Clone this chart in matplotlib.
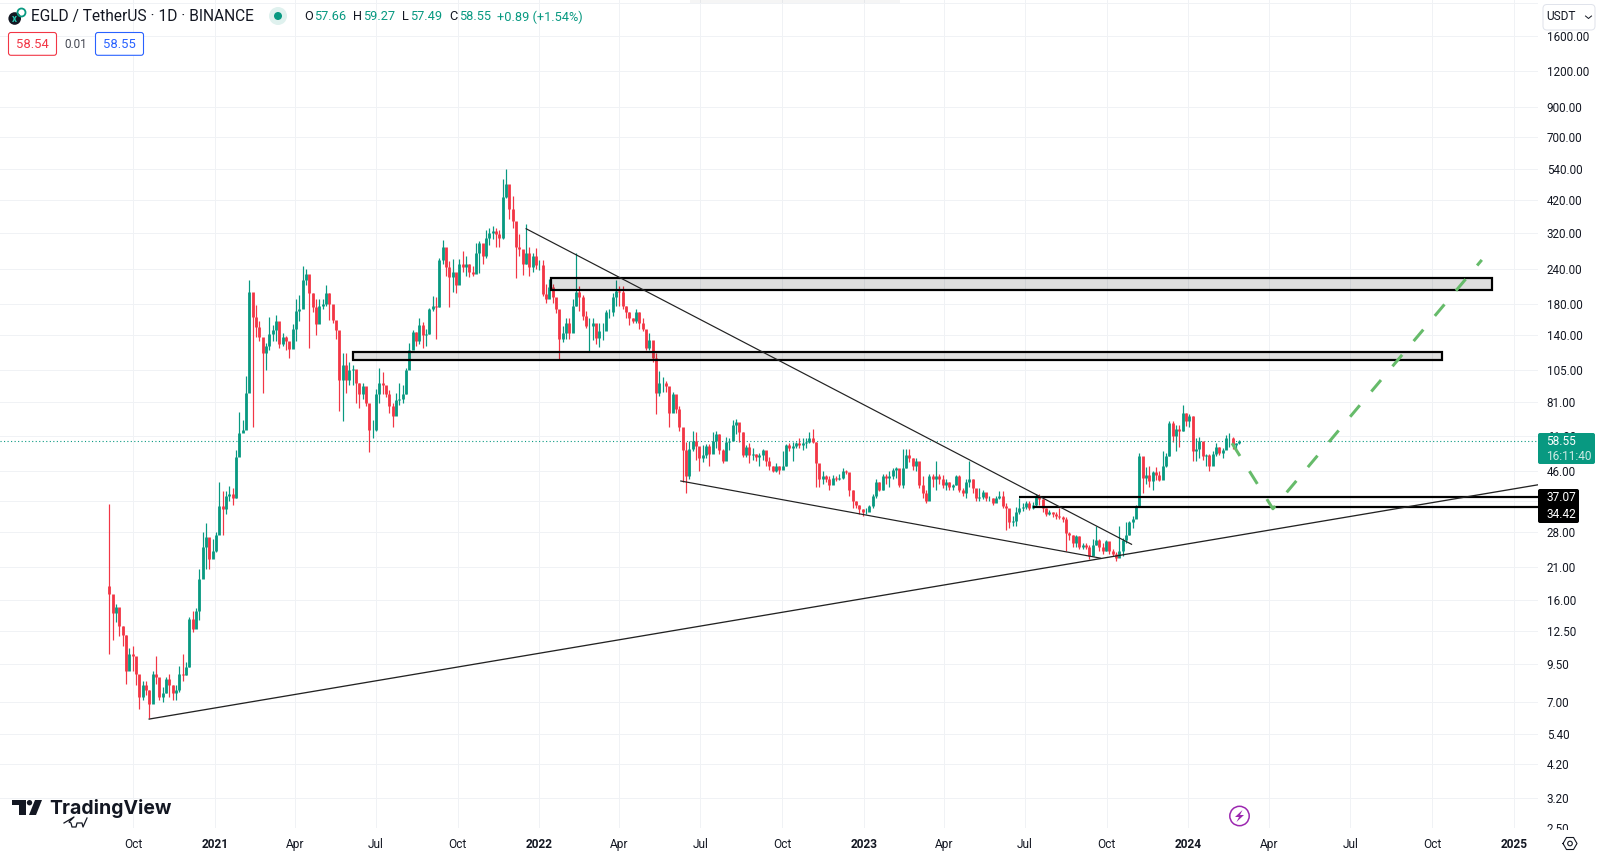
import datetime as dt
import matplotlib
matplotlib.use('Agg')
import matplotlib.pyplot as plt
import matplotlib.dates as mdates
from matplotlib.patches import Rectangle, FancyBboxPatch, Circle, Polygon
import numpy as np

plt.rcParams['font.family'] = ['Roboto', 'DejaVu Sans']

# precios, una vela cada 3.75 dias aprox
first_day = dt.date(2020, 9, 4)
bar_step_days = 3.75
first_open = 18.0

close_a = [16.9, 14.4, 15.2, 13, 12.1, 9, 10.3, 10.2, 8.8, 7.3, 8, 7.7, 6.9, 8.8, 8.6, 7.3, 7.5, 8.4, 8, 7.5,
           7.7, 8.8, 8.7, 9.3, 13.8, 12.7, 14.7, 19.1, 24.7, 26.9, 22.5, 24, 27.2, 34.7, 33.7, 37.6, 38, 37, 51.5, 62.7,
           64.4, 86.7, 198, 161, 149, 137, 120, 128, 141, 145, 157, 130, 137, 133, 124, 147, 170, 173, 218, 230,
           196, 175, 153, 177, 180, 196, 180, 158, 145, 96.4, 109, 96.5, 104.5, 106, 94, 86.5, 92, 80, 64.5, 64.5,
           86.5, 94, 93, 86.5]
high_a = [35.2, 16, 15.6, 14.9, 13, 12.1, 10.9, 11, 9.6, 8.5, 8.3, 8.3, 7.7, 9, 10.2, 8, 7.9, 8.6, 8.8, 8,
          8, 9.4, 10.3, 9.7, 14, 14.7, 15, 20.7, 28, 30, 26, 26.5, 28, 42, 39, 39, 40.8, 40.2, 54.4, 74.5,
          70, 100, 219, 187, 178, 157, 130, 131, 161, 151, 164, 153, 142, 138, 128, 153, 187, 194, 246, 240,
          226, 196, 187, 187, 187, 210, 196, 175, 156, 124, 120, 120, 112, 109, 99, 94, 94, 83, 78, 70,
          90, 107, 103, 92]
low_a = [10.3, 11.6, 13.4, 12, 11, 8.1, 9.3, 9, 8, 6.6, 7.1, 7.4, 6.15, 7.3, 8.1, 7.1, 7, 7.5, 7.3, 7.1,
         7.1, 7.6, 8.3, 8.7, 9.3, 12.4, 13.6, 13.6, 20.5, 20.7, 20.7, 23, 23.8, 30.6, 27.2, 32.4, 36, 34.9, 37, 53,
         63.5, 66, 130, 66, 137, 133, 87, 105, 123, 133, 133, 126, 128, 123, 116, 128, 133, 156, 194, 210,
         125, 168, 139, 160, 172, 177, 158, 154, 135, 75, 69, 87, 93, 93, 80, 77, 83, 78, 53.6, 60,
         64, 80, 86.5, 84]

close_b = [78, 72, 82, 83, 86.5, 105, 123, 143, 133, 151, 139, 141, 172, 177, 175, 257, 285, 243, 224, 233,
           209, 250, 243, 250, 233, 230, 272, 295, 265, 307, 320, 326, 318, 307, 430, 478, 390, 355, 285, 282,
           250, 272, 243, 265, 248, 248, 195, 187, 206, 190, 172, 135, 142, 154, 142, 177, 198, 190, 163, 150,
           150, 154, 136, 144, 144, 168, 168, 190, 200, 198, 177, 168, 160, 157, 168, 154, 146, 125, 134, 116,
           87, 94, 94, 92, 74, 86, 76, 66, 54.5, 44, 55, 59, 56.5]
high_b = [89, 80, 87, 94, 93, 107, 131, 145, 143, 160, 155, 147, 174, 192, 190, 262, 303, 278, 255, 260,
          217, 260, 278, 265, 250, 245, 295, 300, 278, 328, 335, 340, 335, 328, 500, 540, 447, 432, 320, 318,
          272, 345, 285, 272, 283, 258, 258, 212, 220, 212, 184, 167, 150, 160, 160, 187, 272, 208, 194, 170,
          160, 160, 144, 154, 154, 171, 172, 196, 218, 208, 208, 177, 168, 160, 172, 168, 160, 135, 142, 127,
          120, 104, 99, 96, 88, 88, 81, 78, 64, 58.5, 59, 64, 63]
low_b = [74, 66, 76, 79, 80, 86, 108, 125, 128, 130, 125, 128, 141, 170, 135, 175, 250, 225, 175, 198,
         196, 213, 233, 225, 224, 226, 250, 232, 250, 262, 290, 305, 285, 285, 305, 425, 360, 335, 222, 265,
         228, 250, 225, 233, 240, 238, 192, 181, 190, 181, 167, 115, 132, 135, 135, 163, 177, 170, 158, 148,
         122, 134, 130, 127, 134, 150, 160, 163, 177, 177, 172, 160, 151, 154, 154, 146, 144, 123, 123, 112,
         73, 85, 88, 88, 66, 76, 74, 64, 42, 38.5, 43, 54, 50.5]

close_c = [51, 52.5, 56.5, 53, 59, 62, 54.5, 50, 58.5, 59, 67, 68.5, 63, 52.5, 56, 52.5, 53, 51.5, 52.5, 54.5,
           50, 48, 46, 48, 46.5, 48, 57, 55.5, 56.5, 58, 57, 58, 58.5, 60, 58.5, 49, 43, 44, 43, 41,
           43.5, 43, 43.5, 46, 45.5, 39.5, 36, 35, 33.7, 33, 33, 34.5, 37.5, 42, 39.5, 44, 43.5, 44, 46.5, 47,
           41, 47, 52.5, 51, 48, 50, 41, 38.5, 36, 44, 43, 44, 43, 41, 42, 40.5, 41, 44, 39.5, 38.5,
           42, 43, 40, 37]
high_c = [54.5, 57, 57.5, 57.5, 63, 64, 62, 55, 60.5, 60, 70, 70.5, 67, 63.5, 57, 58, 55.5, 53, 53.5, 55,
          54, 51.5, 48, 49, 48, 54, 57.5, 58, 58.5, 58.5, 60, 60, 60, 63.5, 65, 58.5, 48, 46, 44.5, 44,
          44.5, 44, 45, 47, 46.3, 45, 39.5, 36, 34.8, 33.7, 34, 35, 38, 43, 42, 45, 45, 46, 47, 47.5,
          46.5, 55, 55, 55, 51, 51, 48, 44, 39.5, 45, 45, 50, 45, 44.5, 43, 42, 41.5, 44.5, 44.5, 40,
          43, 50, 43, 39.5]
low_c = [46, 49.5, 51, 48, 54, 55.5, 53, 49, 53, 54.5, 60, 62, 58.5, 51.5, 51.5, 49, 50.5, 50, 48, 50.5,
         48, 46.5, 45.5, 45.5, 45, 47.5, 48, 54, 50, 55.5, 55.5, 54.5, 55.5, 58, 58, 40.5, 40.5, 41.5, 42, 39.5,
         41.5, 42.5, 42.8, 43, 45, 37.5, 34, 34, 32.5, 32, 32.5, 33.7, 34, 37, 39, 39.5, 41.5, 40.5, 43, 43.5,
         40.5, 40, 47, 49.5, 46.5, 46, 40, 37, 35.5, 39.5, 40.5, 39.5, 41.5, 40, 39.5, 39.5, 39.5, 41, 38.8, 37.5,
         37, 40.5, 38.5, 36]

close_d = [37.3, 38.8, 37, 37, 35.5, 37, 37.5, 34.5, 34, 30.3, 30.7, 33, 34, 34.3, 35.5, 34, 35, 37.5, 36.5, 34,
           32.5, 33, 32.5, 32, 31.5, 31, 27.7, 27.3, 25.5, 27, 24.8, 25.2, 24.8, 23, 25.2, 26.2, 24.8, 24, 25.9, 24,
           23.3, 22.7, 24, 26.2, 27.3, 30.3, 31, 34.5, 52, 43.5, 44.5, 42.5, 45.5, 44.5, 42.8, 48, 52, 68, 61, 65,
           64, 74, 69, 72, 54, 55, 59, 52, 52.5, 48, 53, 56, 53.5, 54.5, 60, 60, 57, 57.66, 58.55]
high_d = [40, 39.5, 38, 37.5, 37, 37.5, 39, 39, 35.5, 32, 32, 34.3, 37, 35.3, 36, 36, 35.7, 38, 38.2, 36.5,
          34, 33.5, 33, 32.8, 34, 32, 31.5, 28, 27.3, 27.3, 27, 25.5, 25.5, 25.2, 26.4, 29.3, 26.4, 25.5, 26.2, 25.5,
          24.4, 23.7, 29.3, 26.6, 30.3, 30.5, 32, 35, 53.5, 49, 47.5, 48, 46, 47.5, 46, 54, 53.5, 69, 69, 67,
          67, 79, 74, 73, 72, 60, 60.5, 58, 53, 53, 54, 58, 56, 55.5, 61.5, 62.5, 60.5, 58, 59.27]
low_d = [36, 36.5, 36, 36, 35, 36.2, 36.7, 34, 28.5, 28.8, 29.4, 29.4, 32.5, 33.2, 33.8, 33.5, 33.8, 34.6, 35, 33,
         32, 32.2, 31.5, 31, 31, 30.3, 24, 26.2, 24.8, 24.8, 24.4, 24.4, 24.4, 22.4, 23.3, 25.2, 24, 23.3, 24, 23.4,
         23, 22.1, 23, 23, 25.5, 27.3, 28.8, 32, 34.5, 38.3, 41.5, 40.5, 39.5, 42.8, 42.3, 44.5, 47.5, 52, 58.5, 54,
         56, 64, 66.5, 66, 50, 50, 51, 50.5, 47.8, 46, 51.5, 52, 52.5, 51, 55, 56, 55, 55, 57.49]

closes = close_a + close_b + close_c + close_d
highs = high_a + high_b + high_c + high_d
lows = low_a + low_b + low_c + low_d
opens = [first_open] + closes[:-1]

last_price = 58.55

# escala de precios y fechas
price_ticks = [1600, 1200, 900, 700, 540, 420, 320, 240, 180, 140, 105, 81, 61, 46, 36, 28, 21, 16, 12.5, 9.5, 7, 5.4, 4.2, 3.2, 2.5]
hidden_price_labels = [36]  # queda tapada por las etiquetas negras
grid_extra = [2100]
month_ticks = [dt.date(2020, 10, 1), dt.date(2021, 1, 1), dt.date(2021, 4, 1), dt.date(2021, 7, 1), dt.date(2021, 10, 1),
               dt.date(2022, 1, 1), dt.date(2022, 4, 1), dt.date(2022, 7, 1), dt.date(2022, 10, 1),
               dt.date(2023, 1, 1), dt.date(2023, 4, 1), dt.date(2023, 7, 1), dt.date(2023, 10, 1),
               dt.date(2024, 1, 1), dt.date(2024, 4, 1), dt.date(2024, 7, 1), dt.date(2024, 10, 1), dt.date(2025, 1, 1)]
month_labels = ['Oct', '2021', 'Apr', 'Jul', 'Oct', '2022', 'Apr', 'Jul', 'Oct', '2023', 'Apr', 'Jul', 'Oct',
                '2024', 'Apr', 'Jul', 'Oct', '2025']

# dibujos sobre el grafico (fecha, precio)
support_dates = [dt.date(2020, 10, 19), dt.date(2025, 1, 28)]
support_prices = [6.08, 41.1]
falling_top_dates = [dt.date(2021, 12, 17), dt.date(2023, 10, 29)]
falling_top_prices = [332, 25.3]
falling_low_dates = [dt.date(2022, 6, 9), dt.date(2023, 9, 24)]
falling_low_prices = [42.4, 22.6]
path_dates = [dt.date(2024, 2, 19), dt.date(2024, 4, 5), dt.date(2024, 11, 26)]
path_prices = [57.7, 33.8, 257.5]
zone_high = (dt.date(2022, 1, 14), dt.date(2024, 12, 7), 201.5, 222)
zone_mid = (dt.date(2021, 6, 5), dt.date(2024, 10, 12), 113.8, 121.8)
level_top = (dt.date(2023, 6, 24), 37.07)
level_low = (dt.date(2023, 7, 10), 34.42)

UP = '#089981'
DOWN = '#F23645'
TEXT = '#131722'
GRID = '#f0f2f5'
PX = 0.72  # un pixel en puntos

fig = plt.figure(figsize=(16, 8.55), dpi=100)
ax = fig.add_axes([0, 27 / 855, 1538 / 1600, 828 / 855])

ax.set_yscale('log')
ax.set_ylim(2.5, 2146)
base = mdates.date2num(dt.date(2021, 1, 1))
ax.set_xlim(base - 241.8, base + 1488.2)

ax.set_yticks(price_ticks)
ax.set_yticklabels(['' if p in hidden_price_labels else f'{p:.2f}' for p in price_ticks], va='center_baseline')
ax.set_yticks([], minor=True)
ax.yaxis.tick_right()
ax.tick_params(axis='y', length=0, pad=6.3, labelsize=8.4, labelcolor=TEXT)
ax.set_xticks(mdates.date2num(month_ticks))
ax.set_xticklabels(month_labels)
ax.tick_params(axis='x', length=0, pad=7, labelsize=8.6, labelcolor=TEXT)
for lab in ax.get_xticklabels():
    if lab.get_text().isdigit():
        lab.set_fontweight('bold')
ax.grid(True, color=GRID, linewidth=PX)
ax.set_axisbelow(True)
ax.axhline(grid_extra[0], color=GRID, linewidth=PX, zorder=0)
for s in ax.spines.values():
    s.set_visible(False)

# velas
x = mdates.date2num(first_day) + bar_step_days * np.arange(len(closes))
colors = [UP if c >= o else DOWN for o, c in zip(opens, closes)]
ax.vlines(x, lows, highs, colors=colors, linewidth=PX * 1.2, zorder=2)
ax.vlines(x, opens, closes, colors=colors, linewidth=PX * 2.8, zorder=3)

ax.axhline(last_price, color=UP, linewidth=PX * 1.1, linestyle=(0, (1, 2.2)), zorder=2)

# zonas y lineas
for d0, d1, p0, p1 in [zone_high, zone_mid]:
    x0, x1 = mdates.date2num(d0), mdates.date2num(d1)
    ax.add_patch(Rectangle((x0, p0), x1 - x0, p1 - p0, facecolor=(0, 0, 0, 0.13), edgecolor='none', zorder=4))
    ax.add_patch(Rectangle((x0, p0), x1 - x0, p1 - p0, facecolor='none', edgecolor='black', linewidth=PX * 2.2, zorder=4))
for d, p in [level_top, level_low]:
    ax.plot([d, dt.date(2025, 1, 28)], [p, p], color='black', linewidth=PX * 2.2, zorder=4, solid_capstyle='butt')

ax.plot(support_dates, support_prices, color='#222222', linewidth=PX * 1.3, zorder=4)
ax.plot(falling_top_dates, falling_top_prices, color='#222222', linewidth=PX * 1.2, zorder=4)
ax.plot(falling_low_dates, falling_low_prices, color='#222222', linewidth=PX * 1.2, zorder=4)
ax.plot(path_dates, path_prices, color='#66bb6a', linewidth=PX * 3, linestyle=(0, (5, 5.97)), zorder=5)

# interfaz encima, en pixeles
ov = fig.add_axes([0, 0, 1, 1], zorder=10)
ov.set_xlim(0, 1600)
ov.set_ylim(855, 0)
ov.axis('off')
ov.patch.set_alpha(0)

ov.add_patch(Rectangle((1538, 830), 62, 6, facecolor='white', edgecolor='none'))
ov.add_patch(Rectangle((690, 0), 210, 3, facecolor=(0, 0, 0, 0.04), edgecolor='none'))

# cabecera
ov.add_patch(Circle((14.7, 18.5), 6.3, facecolor='#131722', edgecolor='none'))
ov.add_patch(Circle((21.5, 12.5), 4, facecolor='none', edgecolor=UP, linewidth=1.3))
ov.text(14.7, 18.5, 'x', color='#26c6b0', fontsize=7, fontweight='bold', ha='center', va='center')
ov.text(31, 17, 'EGLD / TetherUS · 1D · BINANCE', fontsize=11.2, color=TEXT, va='center')
ov.add_patch(Circle((278, 16), 9, facecolor='#dff1ee', edgecolor='none'))
ov.add_patch(Circle((278, 16), 4, facecolor=UP, edgecolor='none'))

for xl, lab, xv, val in [(303.8, 'O', 314, '57.66'), (352.9, 'H', 362.8, '59.27'), (402.3, 'L', 410, '57.49'), (449, 'C', 458.6, '58.55')]:
    ov.text(xl, 17, lab, fontsize=9.2, color=TEXT, va='center')
    ov.text(xv, 17, val, fontsize=9.2, color=UP, va='center')
ov.text(497.3, 17, '+0.89 (+1.54%)', fontsize=9.2, color=UP, va='center')

ov.add_patch(FancyBboxPatch((8.5, 32.5), 48, 22.8, boxstyle='round,pad=0,rounding_size=2.5', facecolor='white',
                            edgecolor=DOWN, linewidth=PX * 1.1))
ov.text(32.3, 44.5, '58.54', fontsize=9.4, color=DOWN, ha='center', va='center')
ov.text(75.3, 44.5, '0.01', fontsize=8.4, color='#434651', ha='center', va='center')
ov.add_patch(FancyBboxPatch((95.5, 32.5), 48, 22.8, boxstyle='round,pad=0,rounding_size=2.5', facecolor='white',
                            edgecolor='#2962FF', linewidth=PX * 1.1))
ov.text(119.3, 44.5, '58.55', fontsize=9.4, color='#2962FF', ha='center', va='center')

# boton moneda
ov.add_patch(FancyBboxPatch((1543, 4.5), 52, 25.5, boxstyle='round,pad=0,rounding_size=4', facecolor='white',
                            edgecolor='#e0e3eb', linewidth=PX))
ov.text(1546.5, 17, 'USDT', fontsize=8.6, color=TEXT, va='center')
ov.plot([1585.5, 1588.5, 1591.5], [16, 18.5, 16], color=TEXT, linewidth=0.7)

# etiquetas de precio
ov.add_patch(FancyBboxPatch((1538, 433), 57, 31, boxstyle='round,pad=0,rounding_size=2', facecolor=UP, edgecolor='none'))
ov.text(1546.5, 441.5, '58.55', fontsize=8.6, color='white', va='center')
ov.text(1546.5, 456, '16:11:40', fontsize=8.6, color='#cdeae4', va='center')
ov.add_patch(FancyBboxPatch((1538, 489), 41, 34, boxstyle='round,pad=0,rounding_size=2', facecolor='black', edgecolor='none'))
ov.text(1546.5, 497.5, '37.07', fontsize=8.6, color='white', va='center')
ov.text(1546.5, 514.5, '34.42', fontsize=8.6, color='white', va='center')

# logo
ov.add_patch(Polygon([(12, 800), (26, 800), (26, 815), (19, 815), (19, 805), (12, 805)], facecolor=TEXT, edgecolor='none'))
ov.add_patch(Circle((29.5, 802.7), 2.7, facecolor=TEXT, edgecolor='none'))
ov.add_patch(Polygon([(35, 800), (42, 800), (36, 815), (29, 815)], facecolor=TEXT, edgecolor='none'))
ov.text(49, 808, 'TradingView', fontsize=14, fontweight='bold', family='Inter', color=TEXT, va='center')
ov.plot([64, 74, 69, 71, 72, 76, 77, 82, 83, 87], [823, 817, 822, 823, 827, 827, 823, 823, 827, 818], color=TEXT, linewidth=0.9)

# rayo
ov.add_patch(Circle((1239.5, 816), 9.7, facecolor='white', edgecolor='#9c27b0', linewidth=1.1))
ov.add_patch(Polygon([(1242.5, 810), (1235, 817), (1239, 817), (1236.5, 822), (1244, 815), (1240, 815)], facecolor='#9c27b0', edgecolor='none'))

# ajustes
hx = [1563, 1566.5, 1573.5, 1577, 1573.5, 1566.5, 1563]
hy = [843.5, 837.5, 837.5, 843.5, 849.5, 849.5, 843.5]
ov.plot(hx, hy, color=TEXT, linewidth=0.8)
ov.add_patch(Circle((1570, 843.5), 2.3, facecolor='none', edgecolor=TEXT, linewidth=0.8))

fig.savefig('out.png', dpi=100, facecolor='white')
